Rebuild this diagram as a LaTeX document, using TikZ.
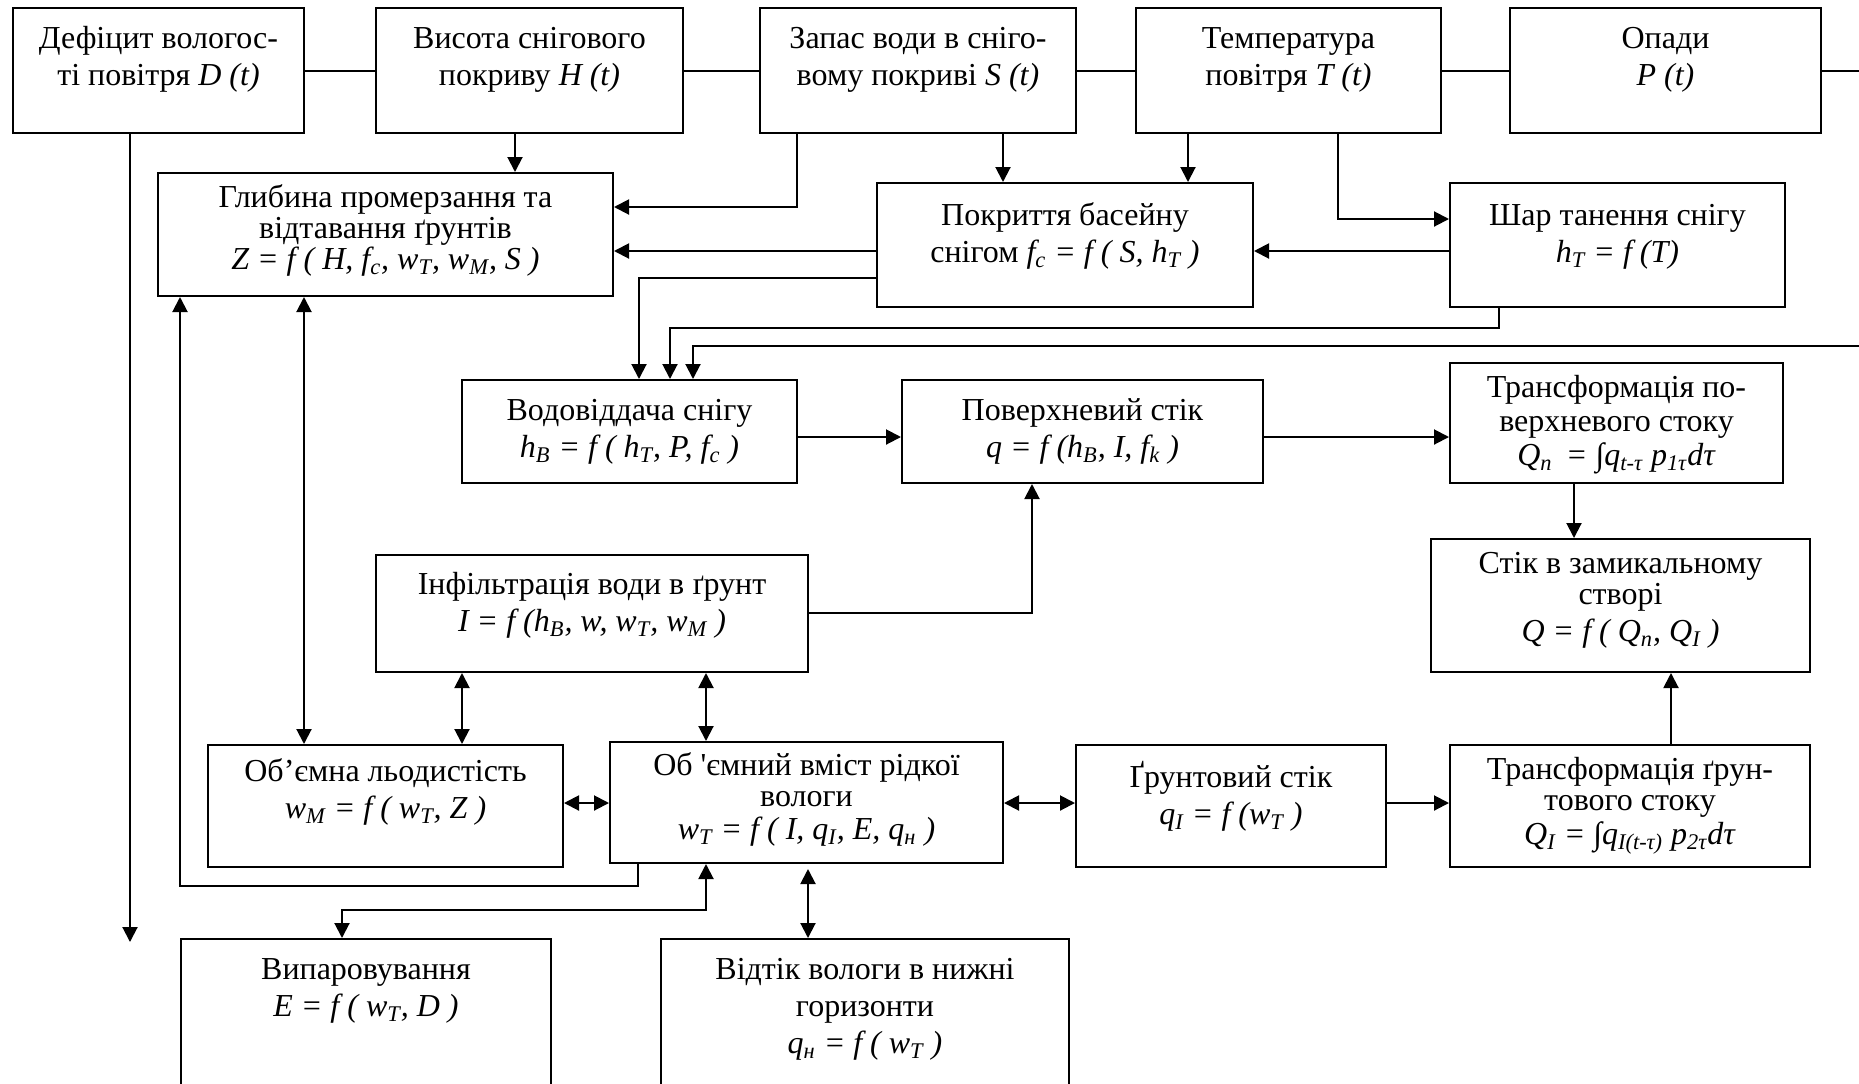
\documentclass[tikz,border=0pt]{standalone}
\usepackage{fontspec}
\setmainfont{Liberation Serif}
\usetikzlibrary{arrows.meta, calc, fit}

\newcommand{\ix}[1]{\textsubscript{#1}}
\newcommand{\sq}{{\addfontfeatures{Ligatures=TeXOff}'}}

\begin{document}
\begin{tikzpicture}[x=0.5pt, y=-0.5pt,
    box/.style={draw, line width=1pt, inner sep=0pt},
    txt/.style={align=center, inner sep=0pt, anchor=base, font=\fontsize{16pt}{18.5pt}\selectfont},
    txt3/.style={txt, font=\fontsize{16pt}{15.5pt}\selectfont},
    ln/.style={line width=1pt},
    arr/.style={ln, -{Triangle[length=7.5pt, width=7.5pt]}},
    dbl/.style={ln, {Triangle[length=7.5pt, width=7.5pt]}-{Triangle[length=7.5pt, width=7.5pt]}}]
    \useasboundingbox (0,0) rectangle (1859,1083);
    \clip (0,0) rectangle (1859,1083);

    \node[box, fit={(13,8) (304,133)}] (D) {};
    \node[box, fit={(376,8) (683,133)}] (H) {};
    \node[box, fit={(760,8) (1076,133)}] (S) {};
    \node[box, fit={(1136,8) (1441,133)}] (T) {};
    \node[box, fit={(1510,8) (1821,133)}] (P) {};
    \node[txt] (Dt) at ($(D.north)+(0,78)$) {Дефіцит вологос-\\ті повітря \textit{D (t)}};
    \node[txt] (Ht) at ($(H.north)+(0,78)$) {Висота снігового\\покриву \textit{H (t)}};
    \node[txt] (St) at ($(S.north)+(0,78)$) {Запас води в сніго-\\вому покриві \textit{S (t)}};
    \node[txt] (Tt) at ($(T.north)+(0,78)$) {Температура\\повітря \textit{T (t)}};
    \node[txt] (Pt) at ($(P.north)+(0,78)$) {Опади\\\textit{P (t)}};

    \node[box, fit={(158,173) (613,296)}] (Glib) {};
    \node[box, fit={(877,183) (1253,307)}] (Pokr) {};
    \node[box, fit={(1450,183) (1785,307)}] (Shar) {};
    \node[txt3] (Glibt) at ($(Glib.north)+(0,97)$) {Глибина промерзання та\\відтавання ґрунтів\\\textit{Z = f ( H, f\ix{c}, w\ix{T}, w\ix{M}, S )}};
    \node[txt] (Pokrt) at ($(Pokr.north)+(0,80)$) {Покриття басейну\\снігом \textit{f\ix{c} = f ( S, h\ix{T} )}};
    \node[txt] (Shart) at ($(Shar.north)+(0,80)$) {Шар танення снігу\\\textit{h\ix{T} = f (T)}};

    \node[box, fit={(462,380) (797,483)}] (Vod) {};
    \node[box, fit={(902,380) (1263,483)}] (Pov) {};
    \node[box, fit={(1450,363) (1783,483)}] (TrP) {};
    \node[txt] (Vodt) at ($(Vod.north)+(0,78)$) {Водовіддача снігу\\\textit{h\ix{B} = f ( h\ix{T}, P, f\ix{c} )}};
    \node[txt] (Povt) at ($(Pov.north)+(0,78)$) {Поверхневий стік\\\textit{q = f (h\ix{B}, I, f\ix{k} )}};
    \node[txt3] (TrPt) at ($(TrP.north)+(0,103)$) {Трансформація по-\\[1.5pt]верхневого стоку\\[1.5pt]\textit{Q\ix{n}\, = ∫q\ix{t-τ} p\ix{1τ}dτ}};

    \node[box, fit={(376,555) (808,672)}] (Inf) {};
    \node[box, fit={(1431,539) (1810,672)}] (Stik) {};
    \node[txt] (Inft) at ($(Inf.north)+(0,77)$) {Інфільтрація води в ґрунт\\\textit{I = f (h\ix{B}, w, w\ix{T}, w\ix{M} )}};
    \node[txt3] (Stikt) at ($(Stik.north)+(0,103)$) {Стік в замикальному\\створі\\[3pt]\textit{Q = f ( Q\ix{n}, Q\ix{I} )}};

    \node[box, fit={(208,745) (563,867)}] (Ob) {};
    \node[box, fit={(610,742) (1003,863)}] (Obv) {};
    \node[box, fit={(1076,745) (1386,867)}] (Grunt) {};
    \node[box, fit={(1450,745) (1810,867)}] (TrG) {};
    \node[txt] (Obt) at ($(Ob.north)+(0,74)$) {Об’ємна льодистість\\\textit{w\ix{M} = f ( w\ix{T}, Z )}};
    \node[txt3] (Obvt) at ($(Obv.north)+(0,98)$) {Об \sq ємний вміст рідкої\\вологи\\[1pt]\textit{w\ix{T} = f ( I, q\ix{I}, E, q\ix{н} )}};
    \node[txt] (Gruntt) at ($(Grunt.north)+(0,80)$) {Ґрунтовий стік\\\textit{q\ix{I} = f (w\ix{T} )}};
    \node[txt3] (TrGt) at ($(TrG.north)+(0,100)$) {Трансформація ґрун-\\тового стоку\\[1.5pt]\textit{Q\ix{I} = ∫q\ix{I(t-τ)} p\ix{2τ}dτ}};

    \node[box, fit={(181,939) (551,1130)}] (Vyp) {};
    \node[box, fit={(661,939) (1069,1130)}] (Vid) {};
    \node[txt] (Vypt) at ($(Vyp.north)+(0,78)$) {Випаровування\\\textit{E = f ( w\ix{T}, D )}};
    \node[txt] (Vidt) at ($(Vid.north)+(0,115)$) {Відтік вологи в нижні\\горизонти\\\textit{q\ix{н} = f ( w\ix{T} )}};

    \coordinate (eP) at (1859,70.5);
    \coordinate (eR) at (1859,346);
    \coordinate (dEnd) at (130,942);

    \foreach \a/\b in {D/H, H/S, S/T, T/P}
        \draw[ln] (\a) -- (\b);
    \draw[ln] (P) -- (eP);
    \draw[arr] (D.south -| 130,0) -- (dEnd);
    \draw[arr] (H.south -| 515,0) -- (Glib.north -| 515,0);
    \draw[arr] (S.south -| 797,0) |- (Glib.east |- 0,207);
    \draw[arr] (S.south -| 1003,0) -- (Pokr.north -| 1003,0);
    \draw[arr] (T.south -| 1188,0) -- (Pokr.north -| 1188,0);
    \draw[arr] (T.south -| 1338,0) |- (Shar.west |- 0,219);
    \draw[arr] (Shar.west |- 0,251) -- (Pokr.east |- 0,251);
    \draw[arr] (Pokr.west |- 0,251) -- (Glib.east |- 0,251);
    \draw[arr] (Pokr.west |- 0,278) -| (Vod.north -| 639,0);
    \draw[arr] (Shar.south -| 1499,0) -- ++(0,20) -| (Vod.north -| 670,0);
    \draw[arr] (eR) -| (Vod.north -| 693,0);
    \draw[arr] (Vod.east |- 0,437) -- (Pov.west |- 0,437);
    \draw[arr] (Pov.east |- 0,437) -- (TrP.west |- 0,437);
    \draw[arr] (TrP.south -| 1574,0) -- (Stik.north -| 1574,0);
    \draw[arr] (Inf.east |- 0,613) -| (Pov.south -| 1032,0);

    \draw[dbl] (Glib.south -| 304,0) -- (Ob.north -| 304,0);
    \draw[dbl] (Inf.south -| 462,0) -- (Ob.north -| 462,0);
    \draw[dbl] (Inf.south -| 706,0) -- (Obv.north -| 706,0);
    \draw[dbl] (Ob.east |- 0,803) -- (Obv.west |- 0,803);
    \draw[arr] (Obv.south -| 638,0) -- ++(0,22) -| (Glib.south -| 180,0);
    \draw[dbl] (Obv.east |- 0,803) -- (Grunt.west |- 0,803);
    \draw[arr] (Grunt.east |- 0,803) -- (TrG.west |- 0,803);
    \draw[arr] (TrG.north -| 1671,0) -- (Stik.south -| 1671,0);
    \draw[dbl] (Obv.south -| 706,0) -- ++(0,46) -| (Vyp.north -| 342,0);
    \draw[dbl, shorten <=2.5pt] (Obv.south -| 808,0) -- (Vid.north -| 808,0);
\end{tikzpicture}
\end{document}
